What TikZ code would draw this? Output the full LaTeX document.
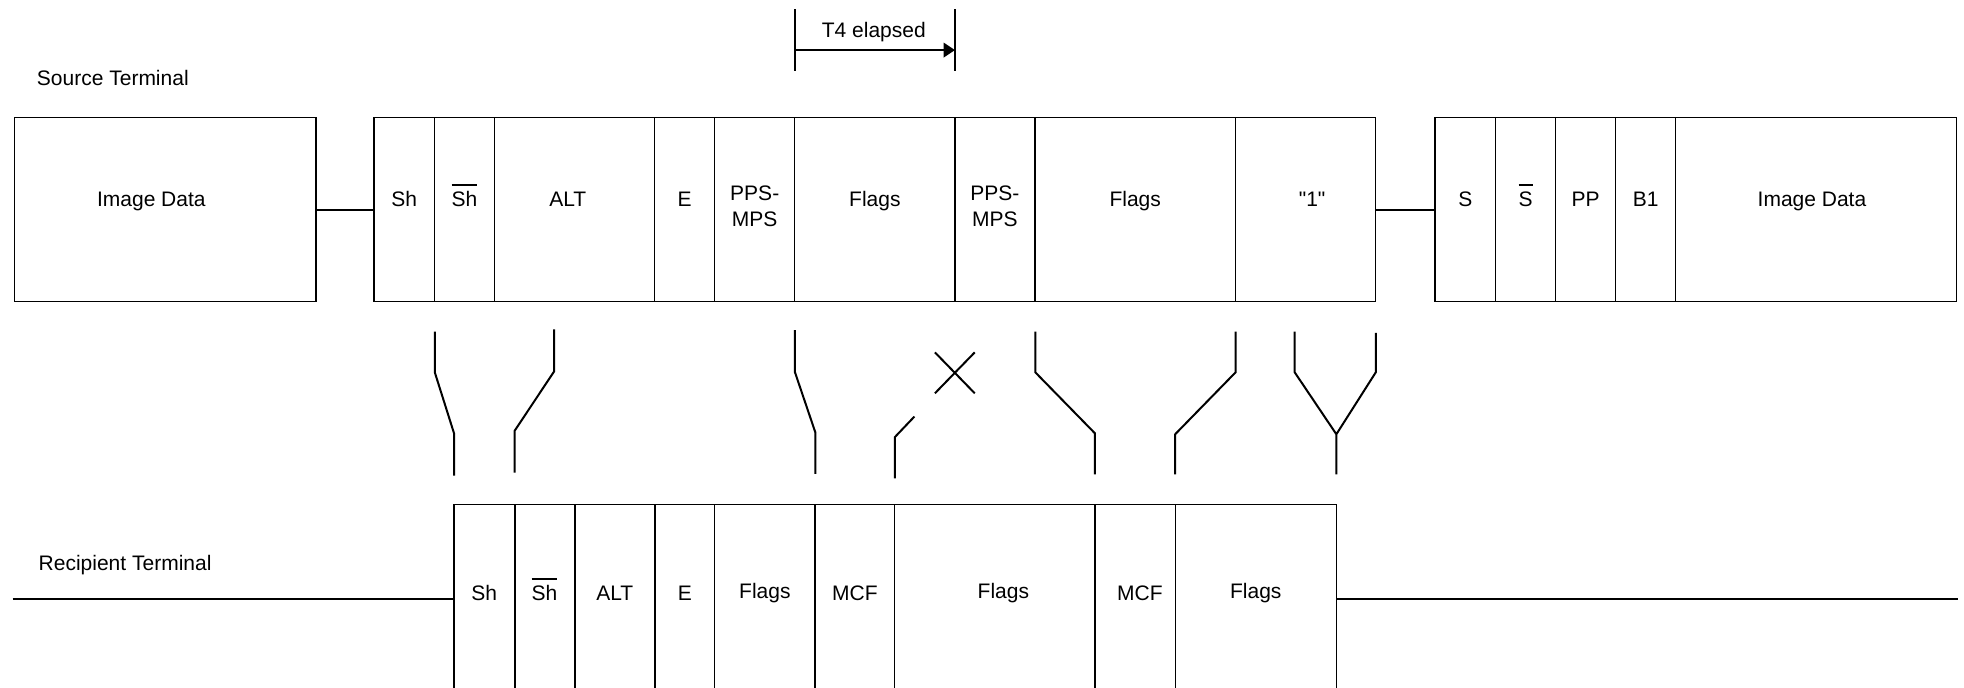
\documentclass[tikz,border=0pt]{standalone}
\usepackage{fontspec}
\setmainfont{Liberation Sans}[Ligatures=TeXOff]
\usetikzlibrary{arrows.meta}
\newcommand{\barred}[1]{\setbox0=\hbox{#1}\rlap{\rule[10.2pt]{\wd0}{0.8pt}}\box0}

\begin{document}
\begin{tikzpicture}[x=0.6263pt,y=-0.6263pt,
  font=\fontsize{10.5}{12.9}\selectfont,
  frm/.style={draw,line width=0.6pt,inner sep=0pt,outer sep=0pt,anchor=north west},
  cell/.style={frm,text height=8pt,text depth=11.7pt},
  cw/.style={minimum width=#1*0.6263pt},
  ch/.style={minimum height=#1*0.6263pt},
  top/.style={cell,ch=147},
  bot/.style={cell,ch=159.4},
  two/.style={frm,ch=147,align=center,text depth=4pt},
  sw/.style={line width=1pt}]
\clip (0,0) rectangle (1568,549);
% ---------- source terminal ----------
\node[anchor=base west,inner sep=0pt] (src) at (29.2,68.4) {Source Terminal};
\node[top,cw=240.9] (img1) at (11.4,94) {Image Data\hspace*{13.8pt}};
\node[top,cw=48.2] (sh) at (298.6,94) {Sh};
\node[top,cw=48.1] (shb) at (346.8,94) {\barred{Sh}};
\node[top,cw=127.9] (alt) at (394.9,94) {ALT\hspace*{6.9pt}};
\node[top,cw=47.7] (e) at (522.8,94) {E};
\node[two,cw=64.1] (pps1) at (570.5,94) {PPS-\\MPS};
\node[top,cw=127.8] (flg1) at (634.6,94) {Flags};
\node[two,cw=63.9] (pps2) at (762.4,94) {PPS-\\MPS};
\node[top,cw=160] (flg2) at (826.3,94) {Flags};
\node[top,cw=111.9] (one) at (986.3,94) {\hspace*{6.6pt}"1"};
\node[top,cw=48.4] (s) at (1145.6,94) {S};
\node[top,cw=47.9] (sb) at (1194,94) {\barred{S}};
\node[top,cw=48.1] (pp) at (1241.9,94) {PP};
\node[top,cw=47.9] (bone) at (1290,94) {B1};
\node[top,cw=223.8] (img2) at (1337.9,94) {Image Data\hspace*{4pt}};
\draw[sw] (img1) -- (sh);
\draw[sw] (one) -- (s);
% ---------- T4 timer ----------
\node[anchor=base] (tfour) at (697.6,30.3) {T4 elapsed};
\draw[sw] (634.6,7.5) -- (634.6,56.5);
\draw[sw] (762.4,7.5) -- (762.4,57);
\draw[sw,-{Triangle[length=5.7pt,width=7.3pt]}] (634.6,40) -- (762.4,40);
% ---------- switches ----------
\draw[sw] (347.2,264.8) -- (347.2,297.5) -- (362.5,346) -- (362.5,379.7);
\draw[sw] (442.3,263) -- (442.3,296.7) -- (410.8,344) -- (410.8,377.4);
\draw[sw] (634.5,263.5) -- (634.5,296.7) -- (651,345.4) -- (651,378.4);
\draw[sw] (714.4,382) -- (714.4,349) -- (730,332.6);
\draw[sw] (746.4,281.3) -- (778.2,314) (778.2,281.3) -- (746.4,314);
\draw[sw] (826.5,264.8) -- (826.5,297.2) -- (874.2,346) -- (874.2,378.7);
\draw[sw] (986.5,264.8) -- (986.5,297.2) -- (938.2,346.7) -- (938.2,378.7);
\draw[sw] (1033.6,264.8) -- (1033.6,297.2) -- (1066.9,346.7) -- (1098.4,297.2) -- (1098.4,265.8)
  (1066.9,346.7) -- (1066.9,378.7);
% ---------- recipient terminal ----------
\node[anchor=base west,inner sep=0pt] (rcp) at (30.6,455.6) {Recipient Terminal};
\node[bot,cw=48.3] (shR) at (362.5,402.6) {Sh};
\node[bot,cw=47.9] (shbR) at (410.8,402.6) {\barred{Sh}};
\node[bot,cw=64.2] (altR) at (458.7,402.6) {ALT};
\node[bot,cw=47.7] (eR) at (522.9,402.6) {E};
\node[bot,cw=80.1,text depth=13.4pt] (flgR1) at (570.6,402.6) {Flags};
\node[bot,cw=63.6] (mcfR1) at (650.7,402.6) {MCF};
\node[bot,cw=159.9,text depth=13.4pt] (flgR2) at (714.3,402.6) {\hspace*{8.5pt}Flags};
\node[bot,cw=64.1] (mcfR2) at (874.2,402.6) {\hspace*{4.8pt}MCF};
\node[bot,cw=128.5,text depth=13.4pt] (flgR3) at (938.3,402.6) {Flags};
\draw[sw] (shbR.north west) -- (shbR.south west)
  (altR.north west) -- (altR.south west)
  (eR.north west) -- (eR.south west);
\coordinate (rl) at (10.1,478.5);
\coordinate (rr) at (1563,478.5);
\draw[sw] (rl) -- (rl -| shR.west);
\draw[sw] (flgR3.east |- rr) -- (rr);
\end{tikzpicture}
\end{document}
